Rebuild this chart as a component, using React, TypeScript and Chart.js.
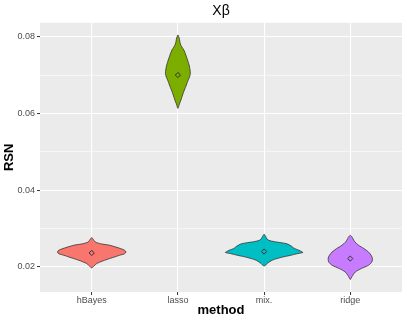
import React, { useEffect, useRef } from 'react';
import { Chart, registerables } from 'chart.js';

Chart.register(...registerables);

const categories = ['hBayes', 'lasso', 'mix.', 'ridge'];
const fillColors = ['#F8766D', '#7CAE00', '#00BFC4', '#C77CFF'];
const yTickValues = [0.02, 0.03, 0.04, 0.05, 0.06, 0.07, 0.08];
const yTickLabels = ['0.02', '', '0.04', '', '0.06', '', '0.08'];
const means = [0.02365, 0.0700, 0.02402, 0.02219];

// violin outlines: y values (top -> bottom) and half-widths (in category units)
const hBayesY = [0.02767, 0.02723, 0.02652, 0.02605, 0.02566, 0.0248, 0.02436, 0.02391, 0.02344, 0.02305, 0.02261, 0.02175, 0.02089, 0.02018, 0.01974];
const hBayesHalf = [0, 0.017, 0.040, 0.104, 0.208, 0.334, 0.381, 0.398, 0.381, 0.323, 0.265, 0.150, 0.058, 0.023, 0];

const lassoY = [0.08045, 0.07967, 0.07888, 0.0781, 0.07732, 0.07654, 0.07523, 0.07393, 0.07262, 0.07132, 0.0704, 0.06949, 0.06871, 0.0674, 0.0661, 0.0648, 0.06349, 0.06245, 0.06133];
const lassoHalf = [0, 0.015, 0.021, 0.029, 0.046, 0.069, 0.092, 0.112, 0.130, 0.141, 0.144, 0.135, 0.119, 0.098, 0.075, 0.054, 0.035, 0.017, 0];

const mixY = [0.02853, 0.02801, 0.02723, 0.02684, 0.02652, 0.0261, 0.02566, 0.02522, 0.02475, 0.02436, 0.02397, 0.02376, 0.0235, 0.02305, 0.02261, 0.02219, 0.02175, 0.0211, 0.02026];
const mixHalf = [0, 0.017, 0.035, 0.069, 0.138, 0.254, 0.300, 0.329, 0.358, 0.404, 0.438, 0.450, 0.392, 0.311, 0.219, 0.150, 0.092, 0.046, 0];

const ridgeY = [0.02827, 0.02775, 0.02741, 0.02652, 0.02566, 0.0248, 0.02391, 0.02305, 0.02219, 0.0213, 0.02044, 0.01958, 0.0187, 0.01783, 0.01718, 0.01671];
const ridgeHalf = [0, 0.023, 0.029, 0.054, 0.096, 0.158, 0.211, 0.242, 0.257, 0.250, 0.211, 0.127, 0.058, 0.029, 0.012, 0];

const violinYs = [hBayesY, lassoY, mixY, ridgeY];
const violinHalves = [hBayesHalf, lassoHalf, mixHalf, ridgeHalf];

function outline(center: number, ys: number[], hs: number[]) {
  const left = ys.map((y, i) => ({ x: center - hs[i], y }));
  const right = ys.map((y, i) => ({ x: center + hs[i], y })).reverse().slice(1);
  return [...left, ...right];
}

const FONT = '"Liberation Sans", Arial, Helvetica, sans-serif';

const panelBg = {
  id: 'panelBg',
  beforeDraw(chart: any) {
    const { ctx, chartArea } = chart;
    ctx.save();
    ctx.fillStyle = '#EBEBEB';
    ctx.fillRect(chartArea.left, chartArea.top, chartArea.right - chartArea.left, chartArea.bottom - chartArea.top);
    ctx.restore();
  },
};

export default function App() {
  const ref = useRef<HTMLCanvasElement | null>(null);
  useEffect(() => {
    if (!ref.current) return;
    const datasets: any[] = categories.map((c, i) => ({
      type: 'line',
      label: c,
      order: 1,
      data: outline(i + 1, violinYs[i], violinHalves[i]),
      backgroundColor: fillColors[i],
      borderColor: '#333333',
      borderWidth: 0.8,
      fill: 'shape',
      pointRadius: 0,
      tension: 0.25,
    }));
    datasets.push({
      type: 'line',
      label: 'mean',
      order: 0,
      data: means.map((m, i) => ({ x: i + 1, y: m })),
      pointStyle: 'rectRot',
      pointRadius: 2.6,
      pointBorderColor: '#333333',
      pointBorderWidth: 1,
      pointBackgroundColor: 'rgba(0,0,0,0)',
      borderColor: 'rgba(0,0,0,0)',
      backgroundColor: 'rgba(0,0,0,0)',
      showLine: false,
      fill: false,
    });
    const chart = new Chart(ref.current, {
      type: 'line',
      data: { datasets },
      options: {
        responsive: false,
        animation: false,
        devicePixelRatio: 1,
        layout: { padding: { left: 0, right: 4, top: 0, bottom: 0 } },
        plugins: {
          legend: { display: false },
          tooltip: { enabled: false },
          title: {
            display: true,
            text: 'Xβ',
            fullSize: false,
            color: '#000000',
            font: { family: FONT, size: 14, weight: 'normal' },
            padding: { top: 3, bottom: 3 },
          },
        },
        scales: {
          x: {
            type: 'linear',
            min: 0.4,
            max: 4.6,
            afterBuildTicks: (s: any) => { s.ticks = [1, 2, 3, 4].map((v) => ({ value: v })); },
            afterFit: (s: any) => { s.height = 29; },
            ticks: {
              callback: (_v: any, i: number) => categories[i],
              color: '#4D4D4D',
              font: { family: FONT, size: 9 },
              padding: 0,
              maxRotation: 0,
              autoSkip: false,
            },
            grid: { color: '#FFFFFF', lineWidth: 1.1, tickColor: '#333333', tickLength: 3, tickWidth: 1 },
            border: { display: false },
            title: {
              display: true,
              text: 'method',
              color: '#000000',
              font: { family: FONT, size: 13, weight: 'bold' },
              padding: { top: 0, bottom: 3 },
            },
          },
          y: {
            type: 'linear',
            min: 0.01348,
            max: 0.08362,
            afterBuildTicks: (s: any) => { s.ticks = yTickValues.map((v) => ({ value: v })); },
            afterFit: (s: any) => { s.width = 40; },
            ticks: {
              callback: (_v: any, i: number) => yTickLabels[i],
              color: '#4D4D4D',
              font: { family: FONT, size: 9 },
              padding: 2,
              autoSkip: false,
            },
            grid: {
              color: '#FFFFFF',
              lineWidth: (ctx: any) => (ctx.index % 2 === 0 ? 1.1 : 0.55),
              tickColor: (ctx: any) => (ctx.index % 2 === 0 ? '#333333' : 'rgba(0,0,0,0)'),
              tickLength: 3,
              tickWidth: 1,
            },
            border: { display: false },
            title: {
              display: true,
              text: 'RSN',
              color: '#000000',
              font: { family: FONT, size: 13, weight: 'bold' },
              padding: { top: 2, bottom: 0 },
            },
          },
        },
      },
      plugins: [panelBg],
    } as any);
    return () => chart.destroy();
  }, []);
  return (
    <div style={{ position: 'fixed', left: 0, top: 0, width: 407, height: 321, background: '#FFFFFF' }}>
      <canvas ref={ref} width={407} height={321} style={{ display: 'block' }} />
    </div>
  );
}
